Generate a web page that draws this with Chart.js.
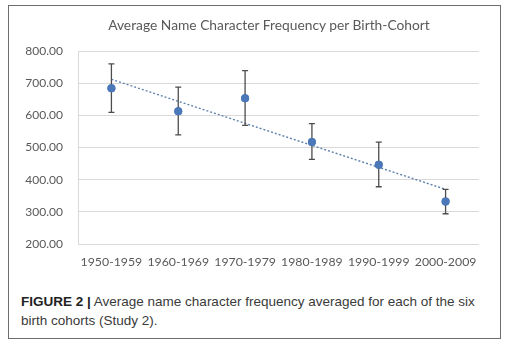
<!DOCTYPE html>
<html>
<head>
<meta charset="utf-8">
<script src="https://cdn.jsdelivr.net/npm/chart.js@4"></script>
<style>
  body { margin: 0; background: #fff; width: 523px; height: 354px; overflow: hidden; }
  .frame { position: absolute; left: 8px; top: 5px; width: 491px; height: 332px; border: 1.5px solid #6e6e6e; }
  .title { position: absolute; left: 69px; top: 16px; width: 400px; text-align: center; font-family: Lato, sans-serif;
           font-size: 13.8px; color: #595959; line-height: 18px; }
  .wrap { position: absolute; left: 8px; top: 6px; width: 493px; height: 268px; }
  .caption { position: absolute; left: 21px; top: 292px; width: 475px; font-family: "Liberation Sans", Arial, sans-serif;
             font-size: 13.5px; line-height: 19px; color: #3a3a3a; }
  .caption b { color: #222; }
</style>
</head>
<body>
<div class="frame"></div>
<div class="wrap"><canvas id="chart" width="493" height="268"></canvas></div>
<div class="title">Average Name Character Frequency per Birth-Cohort</div>
<div class="caption"><b>FIGURE 2 |</b> Average name character frequency averaged for each of the six birth cohorts (Study 2).</div>
<script>
document.addEventListener('DOMContentLoaded', function () {

    // data
    var cohorts = ['1950-1959', '1960-1969', '1970-1979', '1980-1989', '1990-1999', '2000-2009'];
    var means = [684, 613, 653, 517, 446, 332];
    var errUp = [76, 75, 86, 57, 71, 38];
    var errDown = [75, 74, 84, 54, 68, 38];
    var trend = [712, null, null, null, null, 370];
    var yTicks = [200, 300, 400, 500, 600, 700, 800];

    //Draw error bars on top of the points
    var errorBars = {
        id: 'errorBars',
        afterDatasetsDraw: function (chart) {
            var ctx = chart.ctx;
            var meta = chart.getDatasetMeta(1);
            var y = chart.scales.y;
            ctx.save();
            ctx.strokeStyle = '#4d4d4d';
            ctx.lineWidth = 1.3;
            meta.data.forEach(function (pt, i) {
                var top = y.getPixelForValue(means[i] + errUp[i]);
                var bot = y.getPixelForValue(means[i] - errDown[i]);
                ctx.beginPath();
                ctx.moveTo(pt.x, top); ctx.lineTo(pt.x, bot);
                ctx.moveTo(pt.x - 3, top); ctx.lineTo(pt.x + 3, top);
                ctx.moveTo(pt.x - 3, bot); ctx.lineTo(pt.x + 3, bot);
                ctx.stroke();
            });
            // redraw points above the bars
            meta.data.forEach(function (pt) {
                ctx.beginPath();
                ctx.fillStyle = '#4a78b8';
                ctx.arc(pt.x, pt.y, 4, 0, Math.PI * 2);
                ctx.fill();
            });
            ctx.restore();
        }
    };

    var ctx = document.getElementById('chart').getContext('2d');
    new Chart(ctx, {
        type: 'line',
        data: {
            labels: cohorts,
            datasets: [{
                label: 'Trend',
                data: trend,
                spanGaps: true,
                borderColor: '#5d80ad',
                borderWidth: 1.4,
                borderDash: [2, 2],
                pointRadius: 0,
                fill: false
            }, {
                label: 'Average',
                data: means,
                showLine: false,
                pointRadius: 4,
                pointBackgroundColor: '#4a78b8',
                pointBorderWidth: 0
            }]
        },
        options: {
            responsive: false,
            animation: false,
            layout: { padding: { left: 0, right: 22, top: 45, bottom: 0 } },
            plugins: {
                legend: { display: false },
                tooltip: { enabled: false }
            },
            scales: {
                x: {
                    offset: true,
                    grid: { display: false, drawTicks: false },
                    border: { display: false },
                    ticks: { color: '#595959', font: { family: 'Lato', size: 12.3 }, padding: 11, maxRotation: 0 },
                    afterFit: function (s) { s.height = 30; }
                },
                y: {
                    min: 200,
                    max: 800,
                    afterBuildTicks: function (s) {
                        s.ticks = yTicks.map(function (v) { return { value: v }; });
                    },
                    grid: { color: '#d9d9d9', lineWidth: 1, drawTicks: false },
                    border: { display: true, color: '#d9d9d9' },
                    ticks: {
                        color: '#595959',
                        font: { family: 'Lato', size: 12 },
                        padding: 15,
                        callback: function (v) { return Number(v).toFixed(2); }
                    },
                    afterFit: function (s) { s.width = 70; }
                }
            }
        },
        plugins: [errorBars]
    });
});
</script>
</body>
</html>
